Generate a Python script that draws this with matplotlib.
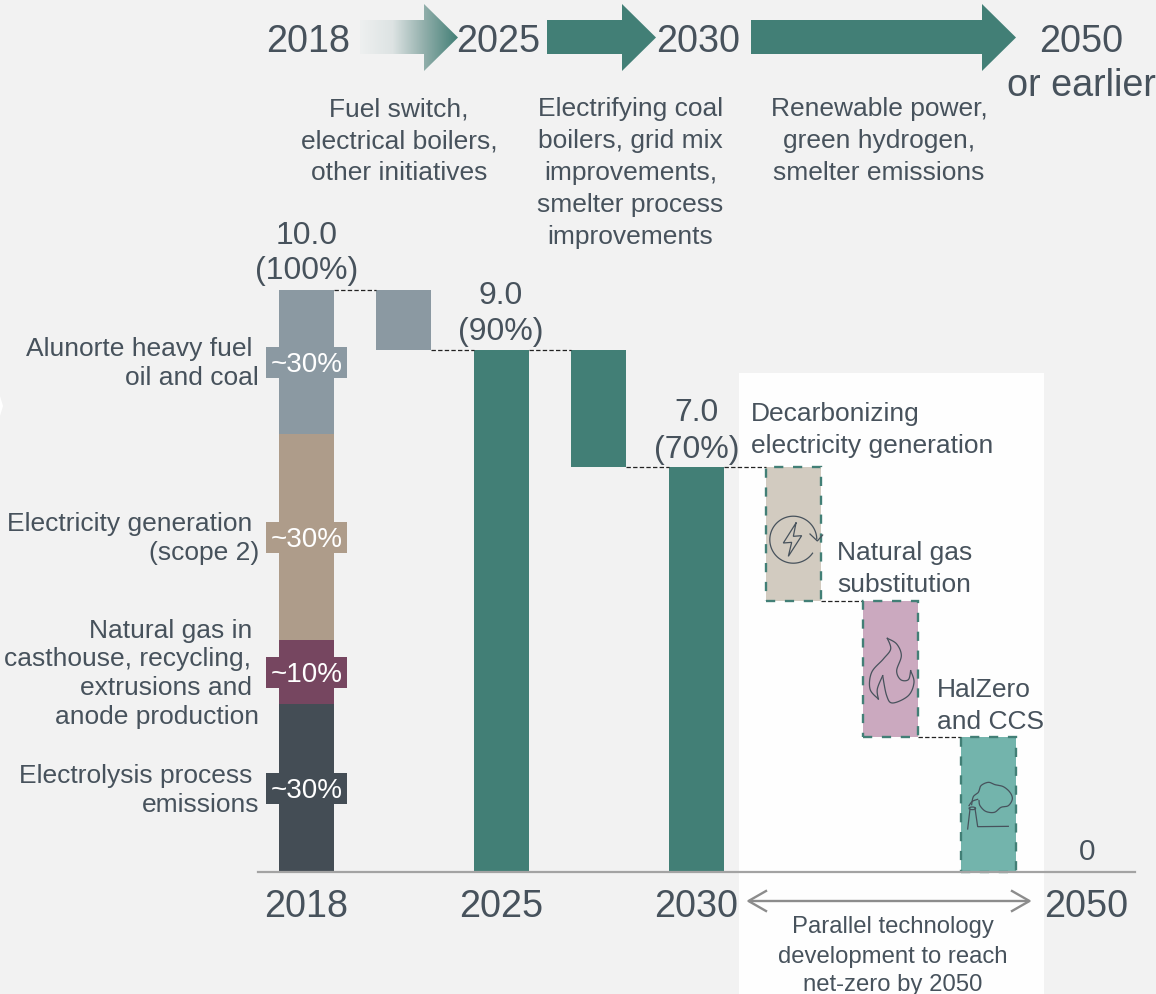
import numpy as np
import matplotlib
matplotlib.use("Agg")
import matplotlib.pyplot as plt
from matplotlib.patches import Polygon, Rectangle, Ellipse
from matplotlib.colors import LinearSegmentedColormap

# ---------- data ----------
stack_labels = ["Electrolysis process emissions", "Natural gas", "Electricity generation", "Alunorte"]
stack_values = [2.89, 1.11, 3.54, 2.46]
stack_colors = ["#444D55", "#764660", "#AE9C8A", "#8B99A2"]

fall_2025_top = 10.0
fall_2025_bottom = 8.97
level_2025 = 8.97
fall_2030_top = 8.97
fall_2030_bottom = 6.97
level_2030 = 6.97
tech_tops = [6.97, 4.66, 2.33]
tech_bottoms = [4.66, 2.33, 0.0]
tech_colors = ["#D2CBC0", "#CBA9BF", "#73B4AC"]

axis_years = ["2018", "2025", "2030", "2050"]

TEXT = "#47525C"
TEAL = "#427F76"
BG = "#F2F2F2"
W, H = 1156, 995
plt.rcParams["font.family"] = ["Liberation Sans", "DejaVu Sans"]

fig = plt.figure(figsize=(W / 100, H / 100), dpi=100, facecolor=BG)

# pixel layer below the bars (white panel)
under = fig.add_axes([0, 0, 1, 1], zorder=0)
under.set_xlim(0, W); under.set_ylim(H, 0); under.axis("off")
under.add_patch(Rectangle((739, 373.6), 305, 622, fc="#FEFEFE", ec="none"))
under.add_patch(Polygon([(0, 397), (3, 407), (0, 417)], fc="#FFFFFF", ec="none"))

# data layer: one unit of x = one column, y in Mt
x0, dx = 306.5, 97.4
y0, dy = 873.4, 58.2
ax = fig.add_axes([0, 0, 1, 1], zorder=1)
ax.patch.set_alpha(0)
ax.set_xlim(-x0 / dx, (W - x0) / dx)
ax.set_ylim(-(H - y0) / dy, y0 / dy)
ax.axis("off")
bw = 55 / dx

bottom = 0.0
for v, c in zip(stack_values, stack_colors):
    ax.bar(0, v, bottom=bottom, width=bw, color=c, lw=0)
    bottom += v
ax.bar(1, fall_2025_top - fall_2025_bottom, bottom=fall_2025_bottom, width=bw, color="#8B99A2", lw=0)
ax.bar(2, level_2025, width=bw, color=TEAL, lw=0)
ax.bar(3, fall_2030_top - fall_2030_bottom, bottom=fall_2030_bottom, width=bw, color=TEAL, lw=0)
ax.bar(4, level_2030, width=bw, color=TEAL, lw=0)
for i, (t, b, c) in enumerate(zip(tech_tops, tech_bottoms, tech_colors)):
    ax.bar(5 + i, t - b, bottom=b, width=bw, color=c, lw=0)
    ax.bar(5 + i, t - b, bottom=b, width=bw, fill=False, ec=TEAL, lw=1.7,
           linestyle=(0, (3.9, 4.1)), zorder=3)

# connectors
conn = [(0, 1, fall_2025_top), (1, 2, level_2025), (2, 3, level_2025), (3, 4, level_2030),
        (4, 5, level_2030), (5, 6, tech_tops[1]), (6, 7, tech_tops[2])]
for a, b, y in conn:
    ax.plot([a + bw / 2, b - bw / 2], [y, y], color="#222222", lw=0.9, ls=(0, (3.5, 1.8)))

ax.plot([(258 - x0) / dx, (1135 - x0) / dx], [0, 0], color="#A3A3A3", lw=1.6, zorder=4)

# pixel layer above
ov = fig.add_axes([0, 0, 1, 1], zorder=2)
ov.patch.set_alpha(0)
ov.set_xlim(0, W); ov.set_ylim(H, 0); ov.axis("off")


def put(x, y, s, size=19.0, ha="center", color=TEXT):
    ov.text(x, y, s, fontsize=size, ha=ha, va="baseline", color=color, zorder=6)


def block(x, y, lines, pitch=32, size=19.0, ha="center"):
    for i, s in enumerate(lines):
        put(x, y + i * pitch, s, size=size, ha=ha)


def arrow_pts(xa, xh, xt):
    return [(xa, 21), (xh, 21), (xh, 5), (xt, 38.5), (xh, 72), (xh, 55), (xa, 55)]


# header arrows
cmap = LinearSegmentedColormap.from_list("f", ["#EEF0F0", "#DDE3E3", "#8FADA9", TEAL])
im = ov.imshow(np.linspace(0, 1, 256).reshape(1, -1), cmap=cmap, extent=(360, 458, 72, 5),
               aspect="auto", zorder=2)
clip = Polygon(arrow_pts(360, 424, 458), transform=ov.transData, fc="none", ec="none")
ov.add_patch(clip)
im.set_clip_path(clip)
ov.set_xlim(0, W); ov.set_ylim(H, 0)
ov.add_patch(Polygon(arrow_pts(547, 622, 656), fc=TEAL, ec="none"))
ov.add_patch(Polygon(arrow_pts(751, 982, 1016), fc=TEAL, ec="none"))

HDR = 27.2
put(308, 52, "2018", size=HDR)
put(498, 52, "2025", size=HDR)
put(698, 52, "2030", size=HDR)
put(1081, 52, "2050", size=HDR)
put(1081, 96, "or earlier", size=HDR)

block(399, 116, ["Fuel switch,", "electrical boilers,", "other initiatives"])
block(630.5, 116, ["Electrifying coal", "boilers, grid mix", "improvements,", "smelter process", "improvements"])
block(879, 116, ["Renewable power,", "green hydrogen,", "smelter emissions"])

VAL = 23.0
put(306.5, 244, "10.0", size=VAL); put(306.5, 279, "(100%)", size=VAL)
put(501, 304, "9.0", size=VAL); put(501, 340, "(90%)", size=VAL)
put(696.5, 421, "7.0", size=VAL); put(696.5, 458, "(70%)", size=VAL)
put(1087, 860, "0", size=VAL - 1.5)

left_lines = [(252, 356, "Alunorte heavy fuel"), (259, 385, "oil and coal"),
              (252, 531, "Electricity generation"), (259, 560, "(scope 2)"),
              (252, 638, "Natural gas in"), (251, 666, "casthouse, recycling,"),
              (252, 695, "extrusions and"), (259, 724, "anode production"),
              (252, 783, "Electrolysis process"), (259, 812, "emissions")]
for x, y, s in left_lines:
    put(x, y, s, ha="right")

for (yb, fc, s) in [(347.6, "#8B99A2", "~30%"), (522.6, "#AE9C8A", "~30%"),
                    (657.6, "#764660", "~10%"), (773.6, "#444D55", "~30%")]:
    ov.add_patch(Rectangle((266, yb), 81, 31, fc=fc, ec="none", zorder=3))
    put(306.5, yb + 24, s, size=20.0, color="#FFFFFF")

block(751, 421, ["Decarbonizing", "electricity generation"], ha="left")
block(837, 560, ["Natural gas", "substitution"], ha="left")
block(937, 697, ["HalZero", "and CCS"], ha="left")

for x, s in zip([306, 501, 696, 1086], axis_years):
    put(x, 917, s, size=HDR)

block(893, 933.5, ["Parallel technology", "development to reach", "net-zero by 2050"],
      pitch=29, size=17.2)

# bottom double arrow
GR = "#8C8C8C"
ov.plot([749, 1029], [902, 902], color=GR, lw=1.7, solid_capstyle="butt")
ov.plot([766, 748.5, 766], [892, 902, 912], color=GR, lw=1.7)
ov.plot([1012, 1029.5, 1012], [892, 902, 912], color=GR, lw=1.7)


# icons
def smooth(pts, n=12):
    p = np.array(pts, float)
    p = np.vstack([p[0], p, p[-1]])
    out = []
    for i in range(1, len(p) - 2):
        for t in np.linspace(0, 1, n, endpoint=False):
            a, b, c, d = p[i - 1], p[i], p[i + 1], p[i + 2]
            out.append(0.5 * (2 * b + (c - a) * t + (2 * a - 5 * b + 4 * c - d) * t ** 2
                              + (3 * b - a - 3 * c + d) * t ** 3))
    out.append(p[-2])
    return np.array(out)


def z(pts):
    return [(740 + x / 3, 440 + y / 3) for x, y in pts]


def icon(pts, curved=True, conv=z):
    q = smooth(conv(pts)) if curved else np.array(conv(pts))
    ov.plot(q[:, 0], q[:, 1], color=TEXT, lw=0.9, zorder=5, solid_joinstyle="miter")


def z6(pts):
    return [(955 + x / 3, 775 + y / 3) for x, y in pts]


th = np.radians(np.linspace(35, 358, 90))
ov.plot(793.3 + 23.5 * np.cos(th), 540.7 + 23.5 * np.sin(th), color=TEXT, lw=0.9, zorder=5)
icon([(210, 285), (232, 306), (248, 288)], curved=False)
icon([(168, 252), (130, 312), (155, 310), (145, 352), (185, 290), (160, 292), (168, 252)], curved=False)
icon([(442, 598), (470, 615), (484, 650), (470, 695), (482, 722), (505, 722), (512, 695)])
icon([(512, 695), (522, 730), (505, 770), (458, 792), (440, 770), (428, 710)])
icon([(428, 710), (412, 750), (415, 780)])
icon([(415, 780), (390, 750), (395, 700), (430, 660), (452, 630), (442, 598)])
icon([(38, 165), (45, 105)], curved=False, conv=z6)
icon([(60, 103), (68, 158), (160, 157)], curved=False, conv=z6)
ov.add_patch(Ellipse((955 + 52 / 3, 775 + 103 / 3), 6.5, 2.6, fc="none", ec=TEXT, lw=0.9, zorder=5))
icon([(50, 92), (55, 68), (70, 55), (78, 35), (100, 25), (120, 32), (145, 38), (165, 55),
      (172, 75), (160, 95), (138, 100), (118, 115), (92, 112), (75, 95), (72, 80)], conv=z6)
icon([(42, 95), (52, 82), (68, 76)], conv=z6)

fig.savefig("out.png", dpi=100, facecolor=BG)
